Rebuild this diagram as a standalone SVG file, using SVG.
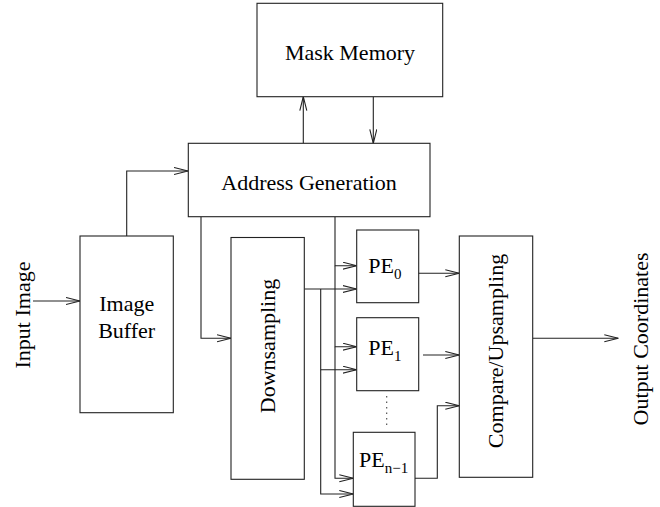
<svg xmlns="http://www.w3.org/2000/svg" width="660" height="507" viewBox="0 0 660 507">
  <style>
    .box { fill: #fff; stroke: #222; stroke-width: 1.1; }
    .wire { fill: none; stroke: #222; stroke-width: 1.1; }
    .lbl { font-family: "Liberation Serif", "Times New Roman", serif; font-size: 22px; fill: #000; }
    .sub { font-family: "Liberation Serif", "Times New Roman", serif; font-size: 15px; fill: #000; }
    .dots { fill: none; stroke: #444; stroke-width: 1.1; stroke-dasharray: 1.5 4; }
  </style>
  <defs>
    <marker id="arr" markerUnits="userSpaceOnUse" markerWidth="16" markerHeight="9" refX="14" refY="4" orient="auto">
      <path d="M0,0.5 L14,4 L0,7.5" fill="none" stroke="#222" stroke-width="1.1"/>
    </marker>
  </defs>

  <rect width="660" height="507" fill="#fff"/>

  <!-- connectors -->
  <g id="connectors" class="wire" marker-end="url(#arr)">
    <path d="M33,301 H80"/>
    <path d="M126.7,236 V171 H188"/>
    <path d="M303.3,143.3 V96.7"/>
    <path d="M373.3,96.7 V143.3"/>
    <path d="M201,216.7 V338.3 H231"/>
    <path d="M335,216.7 V265.7 H356.7" marker-end="url(#arr)"/>
    <path d="M335,265.7 V346.7 H356.7"/>
    <path d="M335,346.7 V478.3 H353.3"/>
    <path d="M304.3,289 H356.7"/>
    <path d="M320.7,289 V369.7 H356.7"/>
    <path d="M320.7,369.7 V494 H353.3"/>
    <path d="M418,273.3 H459.3"/>
    <path d="M423,355 H459.3"/>
    <path d="M415,478.3 H437.3 V405.7 H459.3"/>
    <path d="M532.7,338.3 H618.3"/>
  </g>

  <!-- nodes -->
  <g id="mask-memory">
    <rect class="box" x="257" y="3.3" width="185.7" height="93.4"/>
    <text class="lbl" x="350" y="60" text-anchor="middle">Mask Memory</text>
  </g>

  <g id="address-generation">
    <rect class="box" x="188.3" y="143.3" width="241.7" height="73.4"/>
    <text class="lbl" x="309" y="190" text-anchor="middle">Address Generation</text>
  </g>

  <g id="image-buffer">
    <rect class="box" x="80" y="236" width="93.3" height="176.7"/>
    <text class="lbl" x="126.7" y="310.7" text-anchor="middle">Image</text>
    <text class="lbl" x="126.7" y="338.3" text-anchor="middle">Buffer</text>
  </g>

  <g id="downsampling">
    <rect class="box" x="231" y="237.5" width="73.3" height="241.8"/>
    <text class="lbl" text-anchor="middle" transform="translate(275,346) rotate(-90)">Downsampling</text>
  </g>

  <g id="pe-0">
    <rect class="box" x="356.7" y="230" width="62" height="72.7"/>
    <text class="lbl" x="368.3" y="273.3">PE<tspan class="sub" dy="6">0</tspan></text>
  </g>

  <g id="pe-1">
    <rect class="box" x="356.7" y="317.7" width="62" height="73"/>
    <text class="lbl" x="368.3" y="355">PE<tspan class="sub" dy="6">1</tspan></text>
  </g>

  <g id="pe-ellipsis">
    <path class="dots" d="M386.7,396 V428"/>
  </g>

  <g id="pe-n-1">
    <rect class="box" x="353.3" y="432.3" width="61.7" height="74"/>
    <text class="lbl" x="359" y="466.7">PE<tspan class="sub" dy="6">n−1</tspan></text>
  </g>

  <g id="compare-upsampling">
    <rect class="box" x="459.3" y="236" width="73.4" height="241.3"/>
    <text class="lbl" text-anchor="middle" transform="translate(502.5,351) rotate(-90)">Compare/Upsampling</text>
  </g>

  <g id="input-image">
    <text class="lbl" text-anchor="middle" transform="translate(30,315) rotate(-90)">Input Image</text>
  </g>

  <g id="output-coordinates">
    <text class="lbl" text-anchor="middle" transform="translate(648,339) rotate(-90)">Output Coordinates</text>
  </g>
</svg>
